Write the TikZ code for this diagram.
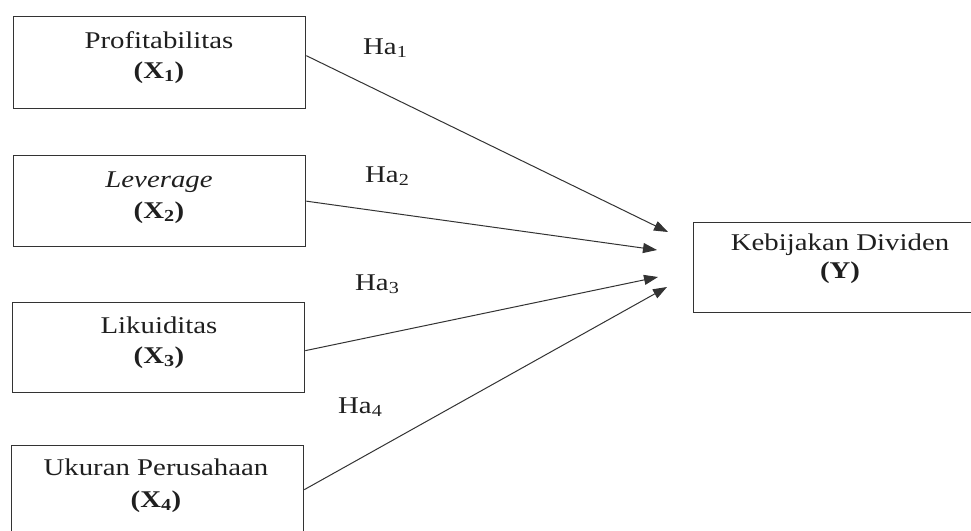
\documentclass[tikz,border=0pt]{standalone}
\usepackage{fontspec}
\setmainfont{Liberation Serif}[FakeStretch=1.2]
\usetikzlibrary{arrows.meta,calc}
\begin{document}
\begin{tikzpicture}[x=1pt,y=-1pt,
  box/.style={draw=black!80, line width=1.3pt, minimum width=292pt, minimum height=92pt, anchor=north west, inner sep=0pt},
  txt/.style={anchor=base, font=\fontsize{24}{28}\selectfont, text=black!88, inner sep=0pt},
  lab/.style={anchor=base west, font=\fontsize{24}{28}\selectfont, text=black!88, inner sep=0pt},
  arr/.style={draw=black!80, line width=1pt, -{Triangle[length=14pt,width=10pt]}}]
\clip (0,0) rectangle (971,530);
\fill[white] (0,0) rectangle (971,530);
% boxes
\node[box, minimum height=92pt] (x1) at (13,16) {};
\node[box, minimum height=91pt] (x2) at (13,155) {};
\node[box, minimum height=90pt] (x3) at (12,302) {};
\node[box, minimum height=88pt] (x4) at (11,445) {};
\node[box, minimum width=290pt, minimum height=90pt] (y) at (693,222) {};
% texts
\node[txt] (t1a) at (159,48) {Profitabilitas};
\node[txt] (t1b) at (159,78) {\textbf{(X\textsubscript{1})}};
\node[txt] (t2a) at (159,187) {\textit{Leverage}};
\node[txt] (t2b) at (159,218) {\textbf{(X\textsubscript{2})}};
\node[txt] (t3a) at (159,333) {Likuiditas};
\node[txt] (t3b) at (159,363) {\textbf{(X\textsubscript{3})}};
\node[txt] (t4a) at (156,475) {Ukuran Perusahaan};
\node[txt] (t4b) at (156,507) {\textbf{(X\textsubscript{4})}};
\node[txt] (tya) at (840,250) {Kebijakan Dividen};
\node[txt] (tyb) at (840,278) {\textbf{(Y)}};
% hypothesis labels
\node[lab] (h1) at (363,54) {Ha\textsubscript{1}};
\node[lab] (h2) at (365,182) {Ha\textsubscript{2}};
\node[lab] (h3) at (355,290) {Ha\textsubscript{3}};
\node[lab] (h4) at (338,413) {Ha\textsubscript{4}};
% arrow tips
\coordinate (e1) at (668,232);
\coordinate (e2) at (657,250);
\coordinate (e3) at (658,277);
\coordinate (e4) at (667,287);
\draw[arr] ([yshift=7pt]x1.east) -- (e1);
\draw[arr] (x2.east) -- (e2);
\draw[arr] ([yshift=-3pt]x3.east) -- (e3);
\draw[arr] (x4.east) -- (e4);
\end{tikzpicture}
\end{document}
